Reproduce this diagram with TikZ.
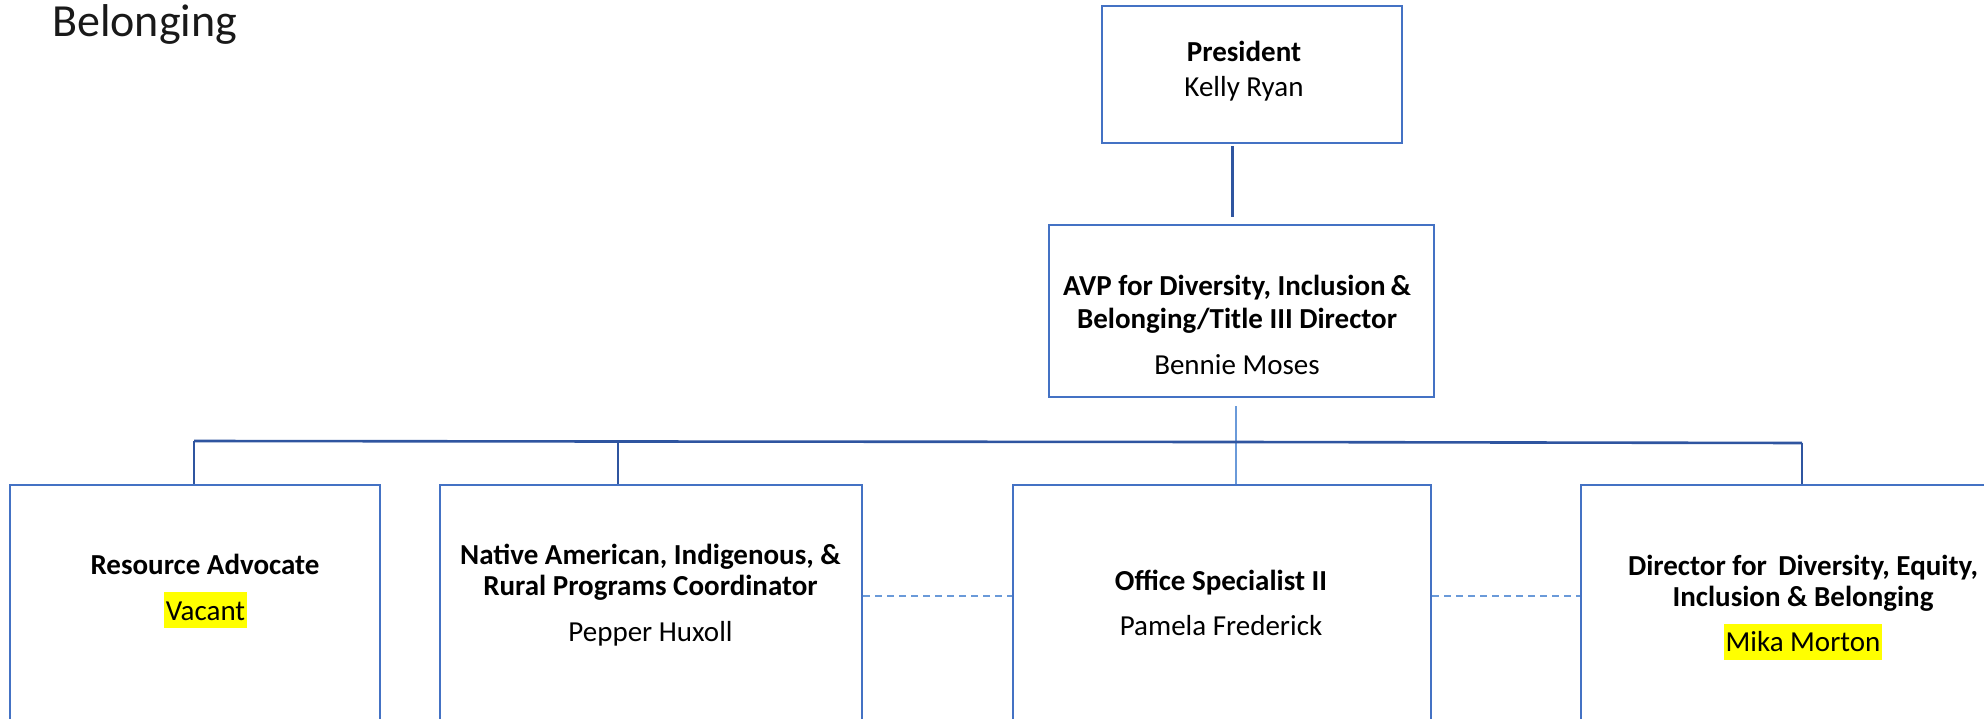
\documentclass[tikz,border=0pt]{standalone}
\usepackage{fontspec}
\setmainfont{Carlito}
\definecolor{boxblue}{HTML}{4472C4}
\definecolor{busblue}{HTML}{2F55A0}
\definecolor{lightblue}{HTML}{6A9AD9}
\definecolor{hl}{HTML}{FFFF00}
\begin{document}
\begin{tikzpicture}[x=1pt,y=-1pt,
  box/.style={draw=boxblue, line width=2.6pt, inner sep=0pt},
  bus/.style={draw=busblue, line width=2.6pt},
  thinline/.style={draw=lightblue, line width=1.7pt},
  dashline/.style={draw=lightblue, line width=1.7pt, dash pattern=on 7pt off 5pt},
  tx/.style={anchor=base, inner sep=0pt, font=\fontsize{#1}{#1}\selectfont},
  tx/.default=29,
  tb/.style={anchor=base, inner sep=0pt, font=\fontsize{#1}{#1}\selectfont\bfseries},
  tb/.default=29,
  hlt/.style={anchor=base, inner xsep=1.5pt, inner ysep=0pt, fill=hl, text height=28pt, text depth=8pt, font=\fontsize{29}{29}\selectfont}]
\useasboundingbox (0,0) rectangle (1984,719);

% title
\node[anchor=base west, inner sep=0pt, font=\fontsize{46}{50}\selectfont, text=black!90] (title) at (52,37) {Belonging};

% boxes
\node[box, minimum width=300pt, minimum height=137pt] (pres) at (1252,74.5) {};
\node[box, minimum width=385pt, minimum height=172pt] (avp) at (1241.5,311) {};
\node[box, minimum width=370pt, minimum height=290pt] (ra) at (195,630) {};
\node[box, minimum width=422pt, minimum height=290pt] (nat) at (651,630) {};
\node[box, minimum width=418pt, minimum height=290pt] (ofs) at (1222,630) {};
\node[box, minimum width=444pt, minimum height=290pt] (dir) at (1803,630) {};

% texts
\node[tb] (presT) at (1244,61.7) {President};
\node[tx] (presN) at (1244,96.7) {Kelly Ryan};

\node[tb] (avpT1) at (1237,296) {AVP for Diversity, Inclusion\,\&};
\node[tb] (avpT2) at (1237,328) {Belonging/Title III Director};
\node[tx] (avpN) at (1237,374) {Bennie Moses};

\node[tb] (raT) at (205,574) {Resource Advocate};
\node[hlt] (raN) at (205.5,620) {Vacant};

\node[tb] (natT1) at (650.5,564) {Native American, Indigenous, \&};
\node[tb] (natT2) at (650.5,595) {Rural Programs Coordinator};
\node[tx] (natN) at (650.5,641) {Pepper Huxoll};

\node[tb] (ofsT) at (1221,590) {Office Specialist II};
\node[tx] (ofsN) at (1221,635) {Pamela Frederick};

\node[tb] (dirT1) at (1803,575) {Director for\ \,Diversity, Equity,};
\node[tb] (dirT2) at (1803,606.7) {Inclusion \& Belonging};
\node[hlt] (dirN) at (1803,651.7) {Mika Morton};

% connector coordinates
\coordinate (cPA) at (1232.5,0);
\coordinate (cAV) at (1236,0);
\coordinate (busL) at (194,441);
\coordinate (busN) at (618,441.5);
\coordinate (busC) at (1236,442);
\coordinate (busR) at (1802,443);
\coordinate (dashY) at (0,596);

% connectors
\draw[bus, shorten <=2pt, shorten >=7pt] (pres.south -| cPA) -- (avp.north -| cPA);
\draw[thinline] ([yshift=-8pt]avp.south -| cAV) -- (ofs.north -| cAV);
\draw[bus] (busL) -- (busN) -- (busC) -- (busR);
\draw[bus] (busL) -- (ra.north -| busL);
\draw[bus] (busN) -- (nat.north -| busN);
\draw[bus] (busR) -- (dir.north -| busR);
\draw[dashline] (nat.east |- dashY) -- (ofs.west |- dashY);
\draw[dashline] (ofs.east |- dashY) -- (dir.west |- dashY);
\end{tikzpicture}
\end{document}
